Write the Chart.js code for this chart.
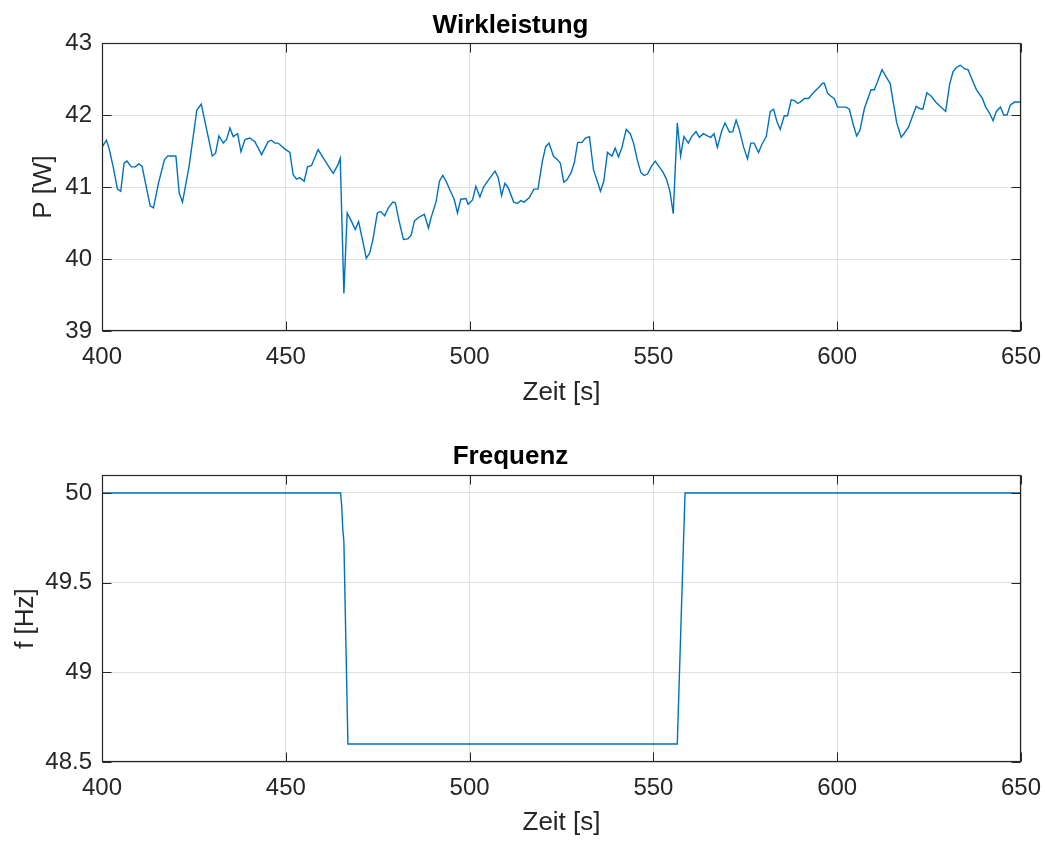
<!DOCTYPE html>
<html>
<head>
<meta charset="utf-8">
<script src="https://cdn.jsdelivr.net/npm/chart.js@4/dist/chart.umd.min.js"></script>
<style>
  html, body { margin: 0; padding: 0; background: #ffffff; }
  #wrap { position: relative; width: 1045px; height: 842px; background: #ffffff; }
  .box { position: absolute; left: 0; width: 1045px; }
</style>
</head>
<body>
<div id="wrap">
  <div class="box" style="top:0;height:420px;"><canvas id="c1" width="1045" height="420"></canvas></div>
  <div class="box" style="top:420px;height:422px;"><canvas id="c2" width="1045" height="422"></canvas></div>
</div>
<script>
// ---- Data: Wirkleistung (active power) ----
const powerTime = [400, 401.2, 401.9, 403, 404.2, 405.1, 406, 406.8, 408, 409.1, 410, 410.9, 411.8, 413.1, 414, 415.4, 417, 417.9, 420.1, 421, 421.9, 423.7, 425.8, 427, 428.5, 430, 430.9, 431.8, 433, 433.9, 434.8, 435.7, 436.9, 437.8, 438.9, 440.2, 441.6, 443.4, 445.2, 446.1, 447, 447.9, 449.7, 451.1, 452, 452.9, 453.8, 455, 455.9, 457, 458.8, 460.6, 462, 462.9, 464.2, 464.8, 465.8, 466.7, 467.8, 468.9, 469.8, 471, 471.9, 472.8, 473.7, 474.9, 475.8, 476.9, 477.9, 479.1, 479.8, 480.9, 482, 483.2, 484.1, 485, 486.2, 487.7, 488.8, 489.5, 490.9, 491.8, 492.7, 493.6, 494.9, 495.8, 496.7, 497.6, 499, 499.6, 500.8, 501.7, 502.8, 503.8, 505.3, 506.9, 507.8, 508.7, 509.6, 510.5, 512, 513, 513.9, 514.8, 516.2, 517.5, 518.6, 519.8, 520.7, 521.6, 522.8, 523.9, 524.7, 525.6, 526.5, 527.6, 528.5, 529.4, 530.6, 531.5, 532.6, 533.7, 534.6, 535.6, 536.5, 537.5, 538.7, 539.6, 540.5, 541.4, 542.6, 543.7, 544.6, 545.6, 546.6, 547.5, 548.4, 549.5, 550.5, 551.6, 552.7, 553.6, 554.5, 555.4, 556.5, 557.4, 558.3, 559.5, 560.4, 561.6, 562.5, 563.6, 564.7, 565.6, 566.5, 567.4, 568.6, 569.5, 570.7, 571.6, 572.5, 573.4, 574.5, 575.6, 576.5, 577.4, 578.6, 579.5, 580.7, 581.8, 582.7, 583.6, 584.5, 585.6, 586.5, 587.5, 588.4, 589.3, 590.2, 591.1, 592.2, 593.5, 594.9, 596, 596.5, 597.4, 598.3, 599.2, 600.1, 601, 602.4, 603.3, 604.4, 605.3, 606.2, 607.4, 609.2, 610.1, 611, 612.2, 613.3, 614.4, 615.3, 616.2, 617.4, 618.3, 619.4, 620.6, 621.5, 622.4, 623.3, 624.4, 625.6, 626.8, 628, 629.5, 630.6, 631.5, 632.4, 633.5, 634.7, 635.6, 636.8, 637.9, 639.5, 640.4, 641.5, 642.4, 643.3, 644.4, 645.3, 646.2, 647.1, 648.3, 650];
const powerValue = [41.55, 41.65, 41.54, 41.29, 40.97, 40.94, 41.33, 41.36, 41.28, 41.28, 41.32, 41.29, 41.06, 40.74, 40.71, 41.06, 41.38, 41.43, 41.43, 40.92, 40.79, 41.29, 42.07, 42.15, 41.79, 41.43, 41.47, 41.71, 41.61, 41.66, 41.82, 41.70, 41.74, 41.49, 41.66, 41.68, 41.63, 41.45, 41.63, 41.65, 41.61, 41.61, 41.53, 41.48, 41.17, 41.11, 41.13, 41.08, 41.28, 41.30, 41.52, 41.37, 41.26, 41.19, 41.31, 41.40, 39.52, 40.64, 40.53, 40.41, 40.52, 40.23, 40.01, 40.08, 40.27, 40.64, 40.66, 40.60, 40.71, 40.79, 40.78, 40.51, 40.27, 40.28, 40.33, 40.53, 40.58, 40.62, 40.43, 40.57, 40.80, 41.08, 41.16, 41.08, 40.93, 40.83, 40.64, 40.83, 40.84, 40.76, 40.82, 41.01, 40.86, 41.00, 41.11, 41.22, 41.13, 40.88, 41.05, 40.99, 40.79, 40.77, 40.81, 40.79, 40.85, 40.97, 40.97, 41.36, 41.56, 41.61, 41.43, 41.38, 41.33, 41.07, 41.10, 41.20, 41.34, 41.62, 41.62, 41.68, 41.70, 41.24, 41.10, 40.94, 41.08, 41.48, 41.43, 41.54, 41.42, 41.54, 41.80, 41.74, 41.61, 41.38, 41.20, 41.16, 41.18, 41.29, 41.36, 41.28, 41.20, 41.10, 40.94, 40.63, 41.89, 41.43, 41.70, 41.61, 41.70, 41.77, 41.69, 41.74, 41.71, 41.69, 41.74, 41.55, 41.78, 41.89, 41.76, 41.77, 41.93, 41.79, 41.56, 41.39, 41.61, 41.61, 41.48, 41.59, 41.70, 42.05, 42.08, 41.91, 41.80, 41.99, 41.99, 42.21, 42.20, 42.16, 42.19, 42.23, 42.23, 42.31, 42.38, 42.44, 42.44, 42.30, 42.26, 42.23, 42.11, 42.11, 42.11, 42.08, 41.86, 41.71, 41.79, 42.09, 42.35, 42.35, 42.47, 42.63, 42.53, 42.44, 42.16, 41.89, 41.69, 41.75, 41.83, 42.00, 42.12, 42.09, 42.08, 42.31, 42.26, 42.18, 42.12, 42.05, 42.43, 42.60, 42.66, 42.69, 42.64, 42.63, 42.48, 42.35, 42.23, 42.11, 42.02, 41.92, 42.05, 42.11, 42.00, 42.00, 42.14, 42.18, 42.18];

// ---- Data: Frequenz ----
const freqTime = [400, 464.9, 465.2, 465.5, 465.8, 466.9, 556.5, 558.6, 650];
const freqValue = [50, 50, 49.93, 49.8, 49.73, 48.6, 48.6, 50, 50];

// ---- Tick labels ----
const xTicks = [400, 450, 500, 550, 600, 650];
const powerTicks = [39, 40, 41, 42, 43];
const freqTicks = [48.5, 49, 49.5, 50];

const FONT = '"Liberation Sans", Arial, Helvetica, sans-serif';
const TEXT = '#262626';
const LINE = '#0072BD';
const GRID = '#dfdfdf';

const boxPlugin = {
  id: 'matlabBox',
  afterDatasetsDraw(chart) {
    const { ctx, chartArea: { left, right, top, bottom }, scales: { x, y } } = chart;
    const L = Math.round(left) + 0.5, R = Math.round(right) - 0.5;
    const T = Math.round(top) + 0.5, B = Math.round(bottom) - 0.5;
    ctx.save();
    ctx.strokeStyle = TEXT;
    ctx.lineWidth = 1;
    ctx.beginPath();
    x.ticks.forEach(t => {
      const p = Math.round(x.getPixelForValue(t.value)) + 0.5;
      ctx.moveTo(p, B); ctx.lineTo(p, B - 9);
      ctx.moveTo(p, T); ctx.lineTo(p, T + 9);
    });
    y.ticks.forEach(t => {
      const p = Math.round(y.getPixelForValue(t.value)) + 0.5;
      ctx.moveTo(L, p); ctx.lineTo(L + 9, p);
      ctx.moveTo(R, p); ctx.lineTo(R - 9, p);
    });
    ctx.stroke();
    ctx.lineWidth = 1.2;
    ctx.strokeRect(L, T, R - L, B - T);
    ctx.restore();
  }
};

function makeChart(id, times, values, cfg) {
  const data = times.map((t, i) => ({ x: t, y: values[i] }));
  return new Chart(document.getElementById(id), {
    type: 'line',
    data: { datasets: [{ data, borderColor: LINE, borderWidth: 1.4, pointRadius: 0, tension: 0, fill: false }] },
    options: {
      responsive: false,
      animation: false,
      devicePixelRatio: 1,
      layout: { padding: { left: 0, right: 24, top: 0, bottom: 0 } },
      plugins: {
        legend: { display: false },
        tooltip: { enabled: false },
        title: {
          display: true, text: cfg.title, color: '#000000',
          font: { family: FONT, size: 26, weight: 'bold', lineHeight: '30px' },
          padding: { top: cfg.titleTop, bottom: cfg.titleBottom }
        }
      },
      scales: {
        x: {
          type: 'linear', min: 400, max: 650,
          afterBuildTicks: s => { s.ticks = xTicks.map(v => ({ value: v })); },
          afterFit: s => { s.height = cfg.xHeight; s.paddingLeft = 0; s.paddingRight = 0; },
          ticks: { color: TEXT, font: { family: FONT, size: 24 }, padding: 12, maxRotation: 0, callback: v => String(v) },
          grid: { color: GRID, lineWidth: 1, drawTicks: false },
          border: { display: false },
          title: { display: true, text: 'Zeit [s]', color: TEXT, font: { family: FONT, size: 26, lineHeight: '30px' }, padding: { top: 0, bottom: cfg.xTitleBottom } }
        },
        y: {
          type: 'linear', min: cfg.yMin, max: cfg.yMax,
          afterBuildTicks: s => { s.ticks = cfg.yTicks.map(v => ({ value: v })); },
          afterFit: s => { s.width = 102; s.paddingTop = 0; s.paddingBottom = 0; },
          ticks: { color: TEXT, font: { family: FONT, size: 24 }, padding: 10, callback: v => String(v) },
          grid: { color: GRID, lineWidth: 1, drawTicks: false },
          border: { display: false },
          title: { display: true, text: cfg.yTitle, color: TEXT, font: { family: FONT, size: 26, lineHeight: '30px' }, padding: { top: cfg.yTitleTop, bottom: 0 } }
        }
      }
    },
    plugins: [boxPlugin]
  });
}

makeChart('c1', powerTime, powerValue, {
  title: 'Wirkleistung', titleTop: 11, titleBottom: 2,
  xHeight: 89, xTitleBottom: 12,
  yMin: 39, yMax: 43, yTicks: powerTicks, yTitle: 'P [W]', yTitleTop: 29
});
makeChart('c2', freqTime, freqValue, {
  title: 'Frequenz', titleTop: 22, titleBottom: 3,
  xHeight: 80, xTitleBottom: 4,
  yMin: 48.5, yMax: 50.1, yTicks: freqTicks, yTitle: 'f [Hz]', yTitleTop: 11
});
</script>
</body>
</html>
